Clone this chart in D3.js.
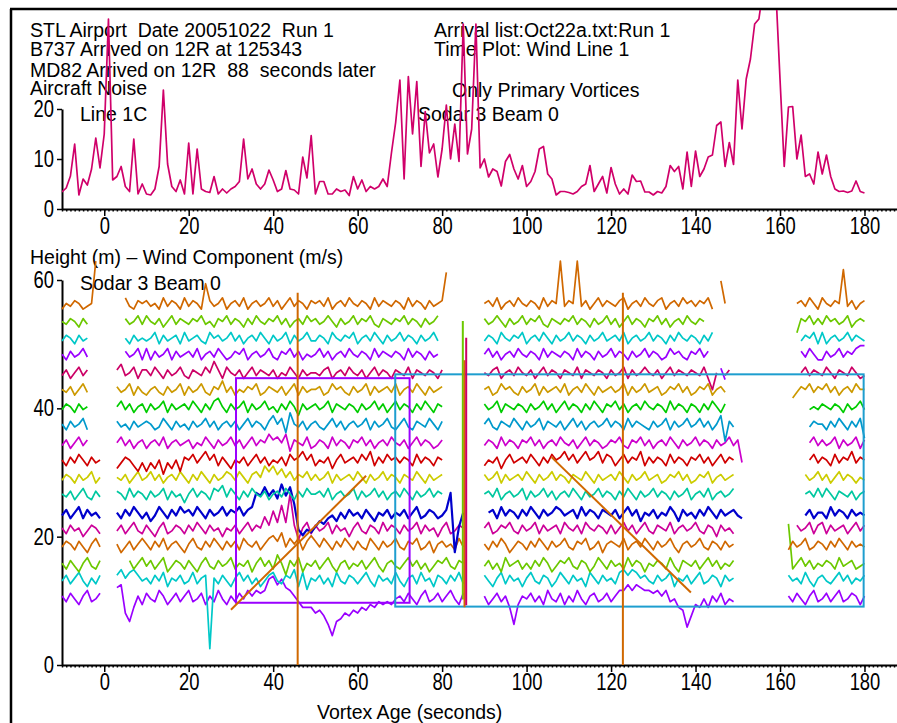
<!DOCTYPE html>
<html>
<head>
<meta charset="utf-8">
<script src="https://cdn.jsdelivr.net/npm/d3@7"></script>
<style>
  body { margin: 0; background: #fff; }
  svg { display: block; }
  text { font-family: "Liberation Sans", Arial, sans-serif; fill: #000; white-space: pre; }
</style>
</head>
<body>
<svg id="chart" width="897" height="723"></svg>
<script>
// ---- data ----
var _ = null;

// aircraft noise, one value per second from -10 to 180
var noiseTimes = d3.range(-10, 181);
var noiseLevel = [
  3.4, 4.2, 6.6, 13.0, 2.8, 6.0, 4.8, 8.0, 14.2, 8.2,
  15.0, 38, 5.8, 6.5, 8.5, 4.5, 3.5, 14.0, 3.0, 5.0,
  3.0, 2.8, 4.0, 8.5, 23.8, 9.0, 4.5, 3.5, 5.8, 3.0,
  13.2, 3.0, 12.0, 4.0, 3.5, 3.3, 6.5, 3.0, 4.0, 3.2,
  4.0, 4.5, 5.5, 14.0, 6.0, 8.0, 5.0, 4.0, 5.0, 7.8,
  5.8, 3.5, 4.0, 7.7, 4.0, 3.8, 3.0, 10.4, 6.2, 14.7,
  3.0, 5.5, 5.5, 3.0, 3.0, 4.0, 3.5, 3.8, 2.7, 6.5,
  4.0, 5.8, 3.5, 4.5, 4.0, 4.5, 6.0, 4.5, 11.2, 17.3,
  25.8, 6.0, 26.5, 15.0, 25.5, 8.5, 19.5, 11.2, 13.0, 6.4,
  12.0, 20.8, 10.0, 17.0, 9.5, 37, 11.0, 16.0, 37, 8.2,
  10.0, 6.4, 8.0, 7.5, 4.6, 9.5, 10.9, 8.0, 6.0, 8.7,
  4.5, 5.5, 7.5, 12.0, 12.5, 7.0, 6.0, 2.8, 3.5, 3.5,
  3.3, 3.0, 3.5, 4.5, 5.0, 8.7, 3.5, 5.0, 6.5, 3.2,
  8.3, 5.0, 3.0, 4.0, 3.0, 6.8, 5.5, 5.6, 3.4, 3.4,
  2.8, 3.5, 3.2, 4.5, 8.7, 7.5, 8.5, 4.0, 11.4, 4.5,
  11.6, 6.5, 8.0, 10.4, 10.8, 16.7, 17.4, 8.5, 13.3, 8.9,
  25.8, 16.0, 26.0, 30.0, 37.0, 38.0, 44, 44, 44, 44,
  26.0, 8.5, 20.4, 20.5, 10.0, 14.8, 6.5, 7.0, 5.0, 11.4,
  7.0, 10.8, 6.5, 4.0, 3.5, 3.6, 3.3, 3.6, 5.6, 3.5, 3.2
];

// sodar gate heights (m), bottom to top
var heights = [10.3, 13.1, 15.4, 18.4, 20.9, 23.3, 26.2, 28.8, 31.5,
               34.2, 37.1, 39.8, 42.5, 45.1, 48.0, 50.5, 53.1, 55.9];

// wind component per gate, one value per second from -10 to 180 (null = no return)
var windTimes = d3.range(-10, 181);
var w0 = [
  1,-1,2,0,-2,1,3,-1,0,2, _,_,_,4,5,-5,-8,-3,1,-2, 2,0,-1,3,1,-2,0,2,-1,1,
  3,-1,0,2,-2,1,-1,3,0,-2, 1,-1,2,0,3,1,3,2,3,7, 8,5,7,4,3,1,-1,-3,-3,-3,
  -5,-4,-6,-9,-13,-8,-7,-5,-6,-4, -5,-3,-4,-2,-3,-1,-2,-1,-2,0, 1,-1,2,0,-2,1,3,-1,0,2,
  -1,1,3,0,-2,2,_,_,_,_, 1,-2,0,2,-1,1,-3,-9,-2,1, 0,2,-1,1,-2,3,0,-1,2,-2,
  1,-1,3,0,-2,1,2,-1,0,2, -1,1,3,3,5,3,5,4,3,3, 2,3,1,3,-1,0,-3,-4,-10,-6,
  -2,-3,0,-3,1,-1,2,-2,0,-1, _,_,_,_,_,_,_,_,_,_, _,_,1,-1,2,0,-2,1,3,-1,
  0,2,-1,1,3,-1,0,2,1,-2, 1];
var w1 = [
  0,2,-1,1,3,0,-2,1,-1,2, _,_,_,2,4,1,3,4,2,0, 1,-1,2,0,3,-2,1,0,2,-1,
  0,3,-1,1,2,-24,1,-1,2,0, -2,1,3,0,2,-1,1,-2,0,2, 3,0,-1,2,1,4,-2,3,-3,1,
  0,2,-1,1,-2,3,0,-1,2,1, -1,1,3,0,-2,2,0,1,-1,3, 0,-2,1,2,-1,3,0,1,-2,2,
  1,-1,2,0,3,-1,_,_,_,_, 2,0,-2,1,3,-1,2,0,1,-2, 1,3,0,-1,2,1,-2,0,3,1,
  -1,2,0,1,-2,3,1,-1,2,0, 1,-1,3,4,2,4,3,1,2,0, -1,2,0,1,3,-2,1,0,2,-1,
  1,3,-1,0,2,1,-2,2,0,1, _,_,_,_,_,_,_,_,_,_, _,_,2,0,1,-1,3,0,-2,1,
  2,0,-1,1,3,0,2,-1,1,0, 2];
var w2 = [
  1,-1,2,0,-2,1,3,0,-1,2, _,_,_,_,_,_,2,-1,1,3, 0,2,-1,1,3,-2,0,2,1,-1,
  2,0,-2,1,3,0,-1,2,0,1, 3,-1,1,0,2,-2,1,3,0,2, -1,4,1,-3,2,0,3,-2,1,0,
  2,-1,1,3,0,-2,1,2,-1,1, 0,2,-1,1,3,0,-2,1,2,0, -1,1,3,0,2,-1,1,-2,0,2,
  1,3,0,-1,2,1,_,_,_,_, 0,2,-1,1,-2,3,0,1,2,-1, 1,-1,2,0,3,1,-2,0,2,1,
  3,0,-1,2,1,-2,0,3,1,-1, 2,0,1,-1,3,0,2,1,-2,1, 0,2,1,-1,3,0,-2,2,1,0,
  2,-1,1,3,0,2,-1,1,0,2, _,_,_,_,_,_,_,_,_,_, _,_,15,-1,1,3,0,2,-1,1,
  0,2,1,-1,3,0,1,2,-1,0, 1];
var w3 = [
  0,2,1,-1,2,0,-2,1,3,0, _,_,_,1,-2,0,2,-1,1,3, 1,-1,2,0,3,-1,1,2,0,-2,
  1,3,0,-1,2,0,3,1,-1,2, 0,2,-1,3,1,0,2,-1,1,3, 4,2,5,0,3,1,3,-1,2,4,
  2,0,3,1,-1,2,0,3,1,-1, 2,0,-1,3,1,-1,2,0,1,3, 0,-1,2,1,3,-1,0,2,-2,1,
  2,0,1,-1,3,0,_,_,_,_, 1,-1,2,0,3,1,-2,0,2,1, -1,2,0,3,1,-1,2,0,1,3,
  0,-1,2,1,3,-1,0,2,-2,1, 2,1,0,3,-1,1,2,0,3,1, -1,2,0,1,3,0,-2,1,2,0,
  1,3,0,-1,2,1,-1,2,0,1, _,_,_,_,_,_,_,_,_,_, _,_,-1,2,0,1,3,-1,0,2,
  1,-1,2,0,3,1,-1,2,0,1, 0];
var w4 = [
  1,-1,2,0,1,-2,0,2,1,-1, _,_,_,0,2,-1,1,3,0,-1, 2,0,-2,1,3,-1,0,2,1,-1,
  2,0,3,1,-1,2,0,1,-2,1, 0,2,-1,1,3,0,2,1,5,2, 7,3,9,3,13,2,-3,1,3,-1,
  2,0,1,3,-1,2,0,1,-2,1, 3,0,-1,2,1,-1,3,0,2,1, -1,2,0,1,3,-1,2,0,1,-2,
  1,3,-1,0,2,1,_,_,_,_, 1,3,-1,0,2,1,3,0,-1,2, 0,1,3,-1,2,0,1,2,-1,3,
  1,0,2,-1,3,1,0,2,1,-1, 2,-1,1,3,0,2,-1,1,3,0, -1,2,1,0,3,-1,1,2,0,1,
  3,0,-1,2,1,-2,2,0,1,-1, _,_,_,_,_,_,_,_,_,_, _,_,_,_,2,0,1,3,-1,2,
  3,-1,2,0,1,2,-1,1,3,0, 2];
var w5 = [
  0,2,-1,1,3,-1,2,0,1,-1, _,_,_,1,-1,2,0,3,1,-1, 1,-2,0,3,1,-1,2,0,3,1,
  2,0,3,1,-1,2,0,1,3,0, 2,1,3,0,2,3,8,7,10,7, 9,6,11,7,10,4,-5,-7,-5,-6,
  -4,-2,-3,-1,0,-2,1,-1,2,0, 1,-1,2,0,-2,1,0,2,-1,1, 0,2,-1,1,3,-1,0,2,1,-1,
  0,2,8,-13,-4,1,_,_,_,_, _,1,2,-1,3,0,2,1,-1,2, 0,3,1,-1,2,0,1,3,2,0,
  1,2,-1,3,0,2,1,-1,2,1, 0,2,-1,1,3,0,2,-2,1,0, 2,-1,1,0,3,1,-2,2,0,1,
  -1,2,0,3,1,-1,2,0,1,2, 0,-1,_,_,_,_,_,_,_,_, _,_,_,_,_,_,0,2,-1,1,
  1,-1,3,0,2,1,-1,2,0,1, 0];
var w6 = [
  1,0,2,-1,1,3,0,-1,2,0, _,_,_,2,1,-1,3,0,2,1, -1,2,0,1,3,-1,2,0,1,-2,
  1,3,0,2,1,-1,3,2,4,0, 3,1,-1,2,0,3,1,0,2,-1, 1,2,0,3,1,-1,2,0,3,1,
  1,2,0,3,-1,1,2,0,1,3, -1,2,0,1,3,0,2,-1,1,2, 0,3,1,-1,2,0,1,3,0,2,
  1,_,_,_,_,_,_,_,_,_, 1,2,0,3,-1,1,2,0,1,3, -1,2,0,1,3,0,2,-1,1,2,
  0,3,1,-1,2,0,1,3,0,2, 1,-1,2,0,3,1,-1,2,0,1, 3,0,2,1,-1,2,0,1,3,-1,
  1,2,0,3,-1,1,2,0,1,3, _,_,_,_,_,_,_,_,_,_, _,_,_,_,_,_,1,2,0,3,
  0,3,1,-1,2,1,0,2,-1,1, 2];
var w7 = [
  0,2,1,-1,2,0,1,3,-1,1, _,_,_,1,0,2,-1,1,3,0, 1,3,0,2,-1,1,2,0,3,1,
  -1,2,0,3,1,-1,2,0,1,3, 2,0,3,1,-1,2,3,1,5,3, 5,2,4,1,3,0,2,1,3,0,
  2,0,1,3,-1,2,0,1,2,0, 3,1,-1,2,0,1,3,0,2,1, -1,2,1,0,3,1,-1,2,0,1,
  2,_,_,_,_,_,_,_,_,_, 2,0,1,3,-1,2,0,1,2,0, 3,1,-1,2,0,1,3,0,2,1,
  -1,2,1,0,3,1,-1,2,0,1, 2,0,3,1,-1,2,0,1,3,0, 1,2,-1,0,2,1,3,0,2,-1,
  0,2,1,3,-1,1,2,0,1,2, _,_,_,_,_,_,_,_,_,_, _,_,_,_,_,_,2,0,1,3,
  0,2,-1,1,3,0,2,1,-1,1, 0];
var w8 = [
  1,-1,2,0,3,1,-1,2,0,1, _,_,_,-2,0,2,1,-1,-3,0, -3,0,-2,1,-4,0,-2,1,-3,2,
  1,3,0,2,4,1,3,-1,2,0, -2,1,0,2,-1,1,3,0,2,-1, 1,0,2,-1,3,1,2,4,1,3,
  -1,1,0,2,-2,1,3,0,1,2, 0,3,1,4,-1,2,0,3,1,2, 0,2,1,-1,3,0,2,1,-1,2,
  1,_,_,_,_,_,_,_,_,_, -1,1,0,2,-2,1,3,0,1,2, 0,3,1,-1,2,0,3,1,2,4,
  1,3,0,2,4,1,2,4,0,3, 2,-1,1,3,0,2,1,4,-1,2, 0,2,1,-1,3,0,2,1,-1,2,
  1,3,0,2,-1,1,3,0,2,1, _,_,_,_,_,_,_,_,_,_, _,_,_,_,_,_,_,1,3,0,
  2,1,-1,3,0,2,1,4,0,2, 1];
var w9 = [
  0,2,-1,1,3,0,2,_,_,_, _,_,_,1,3,0,2,-1,1,2, -1,1,2,0,3,-1,1,2,0,1,
  2,-1,1,0,3,1,-1,2,0,1, 3,0,2,-1,1,3,0,2,1,4, 2,3,1,4,-2,2,1,0,3,-1,
  0,2,1,-1,3,0,2,1,-1,2, 1,3,0,2,-1,1,2,0,3,1, 0,2,-1,1,3,0,2,1,-1,0,
  2,_,_,_,_,_,_,_,_,_, 0,2,1,-1,3,0,2,1,-1,2, 1,3,0,2,-1,1,2,0,3,1,
  0,2,-1,1,3,0,2,1,-1,0, 2,1,3,0,-1,2,1,3,0,2, -1,1,2,0,3,1,-1,2,0,1,
  3,0,2,1,-1,2,0,1,3,0, 2,-6,_,_,_,_,_,_,_,_, _,_,_,_,_,_,_,1,3,0,
  2,0,1,3,-1,2,0,1,3,-1, 2];
var w10 = [
  1,-1,2,0,1,3,-1,_,_,_, _,_,_,2,0,1,-1,2,0,1, 2,1,-1,0,3,1,-1,2,0,1,
  -1,2,0,1,3,0,2,-1,1,2, 0,2,-1,1,3,0,2,1,-1,2, 4,1,3,-2,5,1,0,2,-1,1,
  2,0,-1,1,3,0,2,-1,1,2, 0,1,3,-1,2,0,1,3,0,-1, 1,3,0,-1,2,1,0,3,1,-1,
  2,_,_,_,_,_,_,_,_,_, 1,3,0,-1,2,1,0,3,1,-1, 2,0,1,3,-1,2,1,0,2,-1,
  1,3,0,2,-1,1,2,0,1,3, 0,2,1,-1,3,0,2,1,0,-1, 2,0,1,3,-1,2,0,1,3,0,
  1,3,0,2,-1,1,4,-5,2,0, _,_,_,_,_,_,_,_,_,_, _,_,_,_,_,_,_,0,2,1,
  1,-1,2,0,3,1,-1,2,0,3, -4];
var w11 = [
  0,2,1,-1,2,0,1,_,_,_, _,_,_,1,3,0,2,-1,1,2, -1,2,0,1,3,-1,2,0,1,2,
  0,3,1,-1,2,0,3,4,1,-1, 2,0,1,3,-1,2,0,1,3,0, 1,-1,2,0,3,1,-2,2,0,1,
  2,0,1,3,-1,2,1,0,2,1, -1,2,0,1,3,0,2,-1,1,3, 0,2,1,-1,2,0,3,1,-1,2,
  1,_,_,_,_,_,_,_,_,_, 2,0,1,3,-1,2,1,0,2,1, -1,2,0,1,3,0,2,-1,1,3,
  0,2,1,-1,2,0,3,1,-1,2, 1,3,0,2,-1,1,2,0,3,1, 0,2,1,-1,3,0,2,1,-1,2,
  1,-1,2,0,3,1,-1,2,_,_, _,_,_,_,_,_,_,_,_,_, _,_,_,_,_,_,_,0,1,0,
  2,1,0,2,1,-1,2,0,1,3, 0];
var w12 = [
  1,0,2,-1,1,3,0,_,_,_, _,_,_,2,0,1,3,-1,2,0, -1,1,2,0,-1,2,0,1,3,-1,
  2,0,1,3,0,-1,2,1,4,0, 2,-1,1,0,2,1,3,-1,0,2, 1,0,2,-1,1,3,-1,2,0,1,
  1,2,-1,0,3,1,2,0,-1,2, 0,1,3,-1,2,0,1,2,0,3, -1,1,2,0,3,1,-1,2,0,1,
  2,_,_,_,_,_,_,_,_,_, 1,2,-1,0,3,1,2,0,-1,2, 0,1,3,-1,2,0,1,2,0,3,
  -1,1,2,0,3,1,-1,2,0,1, 2,0,1,3,-1,2,0,1,3,0, 1,2,-1,0,2,1,3,0,2,-1,
  0,2,1,3,-1,1,2,0,_,_, _,_,_,_,_,_,_,_,_,_, _,_,_,-2,0,2,1,3,0,2,
  1,3,0,2,-1,1,2,0,3,1, 1];
var w13 = [
  0,2,-1,1,3,0,2,_,_,_, _,_,_,2,4,0,1,3,-1,2, 2,0,3,1,-1,2,0,1,3,0,
  -1,2,1,0,3,1,5,2,-1,3, 1,0,2,-1,1,3,0,2,1,0, 2,-1,1,0,3,1,-1,2,0,1,
  1,0,2,3,-1,1,2,0,3,1, 0,2,-1,1,3,0,2,1,-1,2, 1,0,3,-1,2,1,0,2,1,-1,
  2,_,_,_,_,_,_,_,_,_, 1,0,2,3,-1,1,2,0,3,1, 0,2,-1,1,3,0,2,1,-1,2,
  1,0,3,-1,2,1,0,2,1,-1, 2,0,1,3,-1,2,0,1,3,1, 0,2,-1,1,3,0,2,1,0,2,
  1,0,3,-1,-5,1,_,0,2,_, _,_,_,_,_,_,_,_,_,_, _,_,_,_,_,1,3,0,2,1,
  0,3,1,-1,2,1,0,3,1,-1, 0];
var w14 = [
  1,-1,2,0,1,3,0,_,_,_, _,_,_,_,_,2,0,1,3,-1, 3,-1,2,0,1,3,-1,2,0,1,
  2,0,3,-1,1,2,0,3,1,-1, 0,2,1,3,-1,1,2,0,1,3, 0,-1,2,1,3,0,2,-1,1,0,
  1,3,0,2,-1,1,2,0,3,1, 0,2,1,-1,3,0,2,1,0,2, 1,-1,3,0,2,1,-1,2,0,1,
  _,_,_,_,_,_,_,_,_,_, 1,3,0,2,-1,1,2,0,3,1, 0,2,1,-1,3,0,2,1,0,2,
  1,-1,3,0,2,1,-1,2,0,1, 3,0,2,1,-1,2,0,1,3,0, 2,1,-1,0,3,1,2,0,-1,2,
  1,3,0,2,_,_,-4,-8,_,_, _,_,_,_,_,_,_,_,_,_, _,_,_,_,_,2,0,3,1,-1,
  -1,2,0,1,3,0,2,1,3,4, 4];
var w15 = [
  0,2,1,-1,2,0,1,_,_,_, _,_,_,_,_,1,-1,2,0,1, 0,1,3,-1,2,0,1,2,-1,3,
  0,1,2,0,-1,3,1,2,0,1, 3,0,2,-1,1,2,0,3,1,-1, 2,0,1,3,-1,2,0,1,3,0,
  0,2,1,-1,3,1,0,2,1,3, -1,1,2,0,3,1,-1,2,0,1, 3,0,2,1,-1,2,0,1,3,0,
  _,_,_,_,_,_,_,_,_,_, 0,2,1,-1,3,1,0,2,1,3, -1,1,2,0,3,1,-1,2,0,1,
  3,0,2,1,-1,2,0,1,3,0, 1,2,0,3,-1,1,2,0,1,3, 0,2,1,-1,2,0,3,1,0,2,
  1,-1,2,0,3,_,_,_,_,_, _,_,_,_,_,_,_,_,_,_, _,_,_,_,_,0,2,1,3,-1,
  3,-1,1,2,0,1,3,0,2,1, 0];
var w16 = [
  1,0,2,1,-1,2,0,_,_,_, _,_,_,_,_,2,0,1,3,0, 3,1,0,2,-1,1,3,0,2,1,
  0,2,1,3,0,1,-1,2,1,3, 0,2,1,-1,2,0,3,1,0,2, 1,3,0,2,-1,1,2,0,3,1,
  2,0,1,3,1,-1,2,0,1,3, 0,2,1,3,0,-1,2,1,0,2, 1,3,0,2,1,-1,2,0,1,3,
  _,_,_,_,_,_,_,_,_,_, 2,0,1,3,1,-1,2,0,1,3, 0,2,1,3,0,-1,2,1,0,2,
  1,3,0,2,1,-1,2,0,1,3, 0,2,-1,1,3,0,2,1,-1,2, 1,3,0,2,-1,1,2,0,3,1,
  0,2,1,_,_,_,_,_,_,_, _,_,_,_,_,_,_,_,_,_, _,_,_,_,-3,2,1,3,0,2,
  0,3,1,2,0,1,3,-1,1,2, 1];
var w17 = [
  -1,1,0,2,1,-1,0,1,16,_, _,_,_,_,_,3,0,-1,2,1, 2,0,1,-1,3,0,2,1,-1,3,
  0,2,1,-1,8,2,0,1,3,-1, 1,2,0,3,-1,1,2,0,1,3, 0,2,-1,1,3,0,2,1,-1,2,
  1,2,0,3,-1,1,2,0,3,1, 0,2,1,-1,3,0,2,1,0,2, 1,-1,3,0,2,1,-1,2,0,1,
  2,12,_,_,_,_,_,_,_,_, 1,2,0,3,-1,1,2,0,3,1, 0,2,1,-1,3,0,2,1,16,0,
  2,1,16,0,2,-1,1,3,0,2, 1,0,2,3,-1,1,2,0,3,1, 0,2,3,-1,1,2,0,3,1,2,
  0,2,1,3,-1,_,9,1,_,_, _,_,_,_,_,_,_,_,_,_, _,_,_,_,1,2,0,3,1,-1,
  3,1,0,2,1,13,0,2,-1,1, 2];
var windSeries = [w0, w1, w2, w3, w4, w5, w6, w7, w8, w9, w10, w11, w12, w13, w14, w15, w16, w17];
var windScale = 0.44; // m of plot height per wind unit

var lineColors = ["#9a00ff", "#00c8c8", "#6cc800", "#d06800", "#cc0099", "#0000cc",
                  "#00c8a0", "#cccc00", "#d00000", "#cc00cc", "#0099cc", "#00cc00",
                  "#cc9900", "#cc0066"];

// vortex boxes and tracks
var boxes = [
  {t0: 31.2, t1: 72.3, h0: 9.7, h1: 44.7, color: "#9a00ff"},
  {t0: 68.9, t1: 179.8, h0: 9.1, h1: 45.3, color: "#1e9ecf"}
];
var tracks = [
  {t0: 30.0, h0: 8.6, t1: 62.0, h1: 29.5},
  {t0: 105.9, h0: 32.4, t1: 138.9, h1: 11.3}
];
var arrivals = [
  {t: 45.8, h0: 0, h1: 58, color: "#d06800"},
  {t: 122.8, h0: 0, h1: 58, color: "#d06800"},
  {t: 84.9, h0: 10.2, h1: 53.6, color: "#6cc800"},
  {t: 85.3, h0: 9.0, h1: 47.5, color: "#d06800"},
  {t: 85.7, h0: 9.3, h1: 51.0, color: "#cc0066"}
];

var xTicks = d3.range(0, 181, 20);

// ---- drawing ----
var svg = d3.select("#chart");

var x = d3.scaleLinear().domain([-10, 187.7]).range([62, 897]);
var yTop = d3.scaleLinear().domain([0, 20]).range([209, 109]);
var yBot = d3.scaleLinear().domain([0, 60]).range([665, 280]);

// frame
svg.append("line").attr("x1", 10).attr("x2", 897).attr("y1", 9).attr("y2", 9)
  .attr("stroke", "#000").attr("stroke-width", 2.5);
svg.append("line").attr("x1", 11).attr("x2", 11).attr("y1", 9).attr("y2", 723)
  .attr("stroke", "#000").attr("stroke-width", 2.5);

function label(txt, px, py) {
  svg.append("text").attr("x", px).attr("y", py)
    .attr("xml:space", "preserve")
    .style("font-size", "19.5px").text(txt);
}
label("STL Airport  Date 20051022  Run 1", 30, 37);
label("B737 Arrived on 12R at 125343", 30, 56);
label("MD82 Arrived on 12R  88  seconds later", 30, 77);
label("Aircraft Noise", 30, 95);
label("Line 1C", 80, 121);
label("Arrival list:Oct22a.txt:Run 1", 434, 37);
label("Time Plot: Wind Line 1", 434, 56);
label("Only Primary Vortices", 452, 97);
label("Sodar 3 Beam 0", 418, 121);
label("Height (m) \u2013 Wind Component (m/s)", 30, 264);
label("Sodar 3 Beam 0", 80, 290);
label("Vortex Age (seconds)", 317, 719);

function styleAxis(g) {
  g.select(".domain").attr("stroke", "#000").attr("stroke-width", 2);
  g.selectAll(".tick line").attr("stroke", "#000").attr("stroke-width", 1.5);
  g.selectAll(".tick text")
    .style("font-size", "23px")
    .style("font-family", "'Liberation Sans', Arial, sans-serif")
    .attr("fill", "#000")
    .attr("transform", "scale(0.8,1)");
}

function xAxisAt(py) {
  var minor = svg.append("g").attr("transform", "translate(0," + py + ")")
    .call(d3.axisBottom(x).tickValues(d3.range(-10, 188, 1)).tickSize(2.5).tickFormat("").tickSizeOuter(0));
  minor.select(".domain").remove();
  minor.selectAll(".tick line").attr("stroke", "#000").attr("stroke-width", 1.5);
  var g = svg.append("g").attr("transform", "translate(0," + py + ")")
    .call(d3.axisBottom(x).tickValues(xTicks).tickSize(7).tickPadding(2).tickSizeOuter(0));
  styleAxis(g);
}

// top panel
xAxisAt(209);
var gyTop = svg.append("g").attr("transform", "translate(62,0)")
  .call(d3.axisLeft(yTop).tickValues([0, 10, 20]).tickSize(5).tickPadding(3).tickSizeOuter(0));
styleAxis(gyTop);
gyTop.selectAll(".tick text").attr("x", -10);

svg.append("clipPath").attr("id", "clipTop").append("rect")
  .attr("x", 62).attr("y", 10).attr("width", 835).attr("height", 199);

var noiseLine = d3.line().x(function (d, i) { return x(noiseTimes[i]); })
  .y(function (d) { return yTop(d); });
svg.append("path").datum(noiseLevel)
  .attr("clip-path", "url(#clipTop)")
  .attr("d", noiseLine)
  .attr("fill", "none").attr("stroke", "#d0006a").attr("stroke-width", 1.7)
  .attr("stroke-linejoin", "round");

// bottom panel
xAxisAt(665);
var gyBot = svg.append("g").attr("transform", "translate(62,0)")
  .call(d3.axisLeft(yBot).tickValues([0, 20, 40, 60]).tickSize(5).tickPadding(3).tickSizeOuter(0));
styleAxis(gyBot);
gyBot.selectAll(".tick text").attr("x", -10);

windSeries.forEach(function (vals, gi) {
  var line = d3.line()
    .defined(function (d) { return d !== null; })
    .x(function (d, i) { return x(windTimes[i]); })
    .y(function (d) { return yBot(heights[gi] + d * windScale); });
  svg.append("path").datum(vals)
    .attr("d", line)
    .attr("fill", "none")
    .attr("stroke", lineColors[gi % lineColors.length])
    .attr("stroke-width", gi === 5 ? 2.2 : 1.7)
    .attr("stroke-linejoin", "round");
});

boxes.forEach(function (b) {
  svg.append("rect")
    .attr("x", x(b.t0)).attr("y", yBot(b.h1))
    .attr("width", x(b.t1) - x(b.t0)).attr("height", yBot(b.h0) - yBot(b.h1))
    .attr("fill", "none").attr("stroke", b.color).attr("stroke-width", 2);
});

tracks.forEach(function (t) {
  svg.append("line")
    .attr("x1", x(t.t0)).attr("y1", yBot(t.h0))
    .attr("x2", x(t.t1)).attr("y2", yBot(t.h1))
    .attr("stroke", "#d06800").attr("stroke-width", 2);
});

arrivals.forEach(function (a) {
  svg.append("line")
    .attr("x1", x(a.t)).attr("x2", x(a.t))
    .attr("y1", yBot(a.h0)).attr("y2", yBot(a.h1))
    .attr("stroke", a.color).attr("stroke-width", 2);
});
</script>
</body>
</html>
